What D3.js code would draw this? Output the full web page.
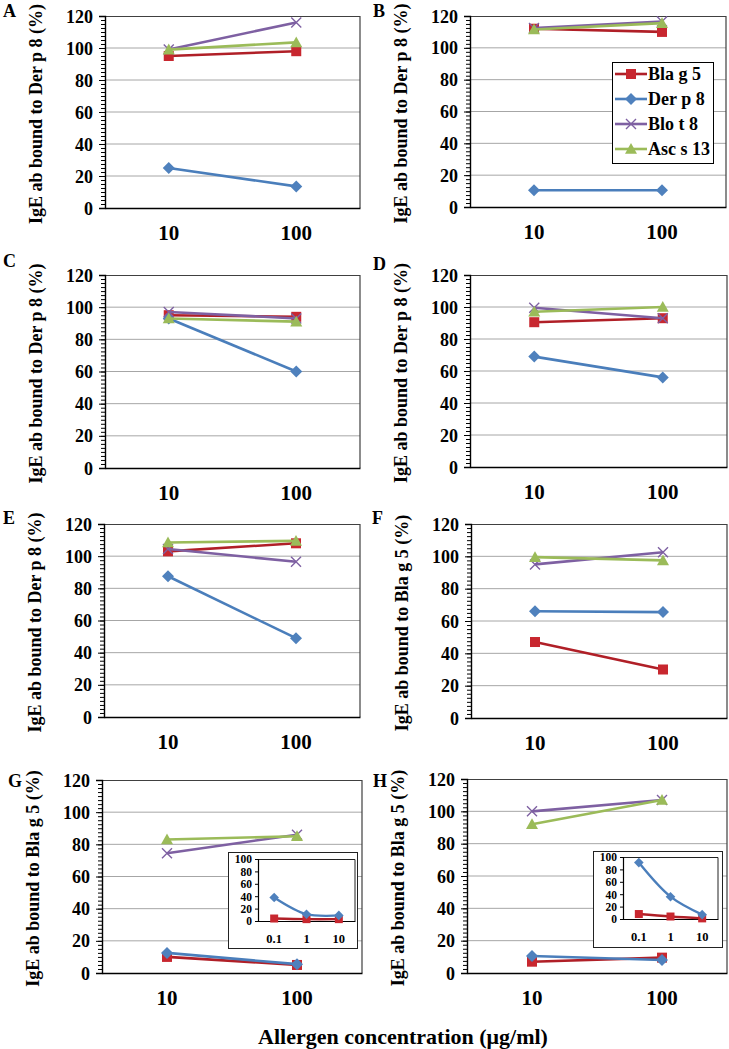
<!DOCTYPE html>
<html><head><meta charset="utf-8">
<script src="https://cdn.jsdelivr.net/npm/d3@7"></script>
<style>
body{margin:0;background:#fff}
svg{display:block}
text{font-family:"Liberation Serif","Times New Roman",serif;font-weight:bold;fill:#000}
</style>
</head><body><svg id="c" width="729" height="1049"></svg>
<script>
// ---------------- data ----------------
const concentrations = ["10", "100"];
const seriesNames = ["Bla g 5", "Der p 8", "Blo t 8", "Asc s 13"];
const panelLetters = ["A", "B", "C", "D", "E", "F", "G", "H"];
const panelTargets = ["Der p 8", "Der p 8", "Der p 8", "Der p 8", "Der p 8", "Bla g 5", "Bla g 5", "Bla g 5"];
// values per panel: [at 10, at 100]
const blag5  = [[95, 98], [112, 110], [95, 94], [90.5, 93], [103, 108], [47, 30], [10, 5], [7, 9.5]];
const derp8  = [[25, 13.5], [10.5, 10.5], [93, 60], [69, 56], [87.5, 49], [66, 65.5], [12.5, 5.5], [10.5, 8]];
const blot8  = [[99, 116], [112.5, 116.5], [97, 93], [99.5, 93], [104.5, 96.5], [95, 102.5], [74.5, 86], [100, 107]];
const ascs13 = [[99, 103.5], [111.5, 115.5], [93, 91], [97, 100], [108.5, 109.5], [99.5, 97.5], [83, 85], [92, 107]];
const yTicks = [0, 20, 40, 60, 80, 100, 120];
const insetPanels = ["G", "H"];
const insetConcentrations = ["0.1", "1", "10"];
const insetBlag5 = [[4, 3, 3], [8, 4, 1]];
const insetDerp8 = [[38, 11, 9], [91, 36, 7]];
const insetTicks = [0, 20, 40, 60, 80, 100];
const xTitle = "Allergen concentration (\u03bcg/ml)";

// ---------------- layout / style ----------------
const svg = d3.select("#c");
const boxes = [
  {x:105, y:16,  w:255, h:192}, {x:470, y:16,  w:256, h:191},
  {x:105, y:275, w:255, h:193}, {x:470, y:275, w:257, h:192},
  {x:104, y:524, w:256, h:193}, {x:471, y:524, w:256, h:194},
  {x:102, y:780, w:260, h:193}, {x:467, y:779, w:260, h:194}
];
const letterPos = [[3,17],[373,17],[3,267],[373,270],[3,524],[372,524],[8,787],[373,787]];
const styles = [
  {line:"#B01F27", fill:"#C8272F", shape:"square"},
  {line:"#4A7EBB", fill:"#4F81BD", shape:"diamond"},
  {line:"#7E60A2", fill:"#7E60A2", shape:"x"},
  {line:"#9BBB59", fill:"#9BBB59", shape:"triangle"}
];
const seriesData = [blag5, derp8, blot8, ascs13];

function marker(sel, shape, st, s) {
  if (shape === "square") {
    sel.append("rect").attr("x", -s/2).attr("y", -s/2).attr("width", s).attr("height", s).attr("fill", st.fill);
  } else if (shape === "diamond") {
    const r = s*0.6;
    sel.append("path").attr("d", `M0,${-r}L${r},0L0,${r}L${-r},0Z`).attr("fill", st.fill);
  } else if (shape === "triangle") {
    const r = s*0.6;
    sel.append("path").attr("d", `M0,${-r}L${r},${r*0.8}L${-r},${r*0.8}Z`).attr("fill", st.fill);
  } else {
    const r = s*0.5;
    sel.append("path").attr("d", `M${-r},${-r}L${r},${r}M${-r},${r}L${r},${-r}`)
      .attr("stroke", st.fill).attr("stroke-width", 1.4).attr("fill", "none");
  }
}

panelLetters.forEach((L, i) => {
  const b = boxes[i];
  const g = svg.append("g").attr("transform", `translate(${b.x},${b.y})`);
  const x = d3.scaleBand().domain(concentrations).range([0, b.w]);
  const y = d3.scaleLinear().domain([0, 120]).range([b.h, 0]);
  g.selectAll(".grid").data(yTicks.filter(t => t > 0 && t < 120)).enter().append("line")
    .attr("x1", 0).attr("x2", b.w).attr("y1", d => y(d)).attr("y2", d => y(d))
    .attr("stroke", "#a6a6a6").attr("stroke-width", 1);
  g.append("path").attr("d", `M0,0.5H${b.w}V${b.h}`).attr("fill", "none")
    .attr("stroke", "#404040").attr("stroke-width", 1.2);
  const minor = d3.axisLeft(y).tickValues(d3.range(0, 120.01, 2.5)).tickSize(4).tickFormat("");
  const gm = g.append("g").call(minor);
  gm.select(".domain").remove();
  gm.selectAll("line").attr("stroke", "#000");
  const ax = g.append("g").call(d3.axisLeft(y).tickValues(yTicks).tickSize(6).tickPadding(6));
  ax.select(".domain").attr("stroke", "#000").attr("stroke-width", 1.4);
  ax.selectAll("line").attr("stroke", "#000");
  ax.selectAll("text").style("font-size", "18px").attr("dy", "0.34em");
  const bx = g.append("g").attr("transform", `translate(0,${b.h})`)
    .call(d3.axisBottom(x).tickSize(0).tickPadding(0));
  bx.select(".domain").attr("stroke", "#000").attr("stroke-width", 1.4);
  bx.selectAll("text").style("font-size", "21px").attr("y", 32).attr("dy", 0);
  g.append("text").attr("transform", `translate(-63,${b.h/2 + 2}) rotate(-90)`)
    .attr("text-anchor", "middle").style("font-size", "18px")
    .text(`IgE ab bound to ${panelTargets[i]} (%)`);
  svg.append("text").attr("x", letterPos[i][0]).attr("y", letterPos[i][1])
    .style("font-size", "18px").text(L);
  const line = d3.line().x(d => x(d.c) + x.bandwidth()/2).y(d => y(d.v));
  seriesData.forEach((arr, s) => {
    const pts = concentrations.map((c, k) => ({c, v: arr[i][k]}));
    g.append("path").attr("d", line(pts)).attr("fill", "none")
      .attr("stroke", styles[s].line).attr("stroke-width", 2.6);
    pts.forEach(p => {
      const m = g.append("g").attr("transform", `translate(${x(p.c) + x.bandwidth()/2},${y(p.v)})`);
      marker(m, styles[s].shape, styles[s], 10);
    });
  });
});

// ---------------- legend in B ----------------
const lg = svg.append("g").attr("transform", "translate(612,62)");
lg.append("rect").attr("x", 0.5).attr("y", 0.5).attr("width", 101).attr("height", 101)
  .attr("fill", "#fff").attr("stroke", "#000").attr("stroke-width", 1);
seriesNames.forEach((n, s) => {
  const yy = 12 + s * 25;
  lg.append("line").attr("x1", 3).attr("x2", 35).attr("y1", yy).attr("y2", yy)
    .attr("stroke", styles[s].line).attr("stroke-width", 2.6);
  marker(lg.append("g").attr("transform", `translate(19,${yy})`), styles[s].shape, styles[s], 10);
  lg.append("text").attr("x", 36).attr("y", yy).attr("dy", "0.34em").style("font-size", "18px").text(n);
});

// ---------------- insets ----------------
const insetBoxes = [
  {ox:228, oy:852, ow:129, oh:96, x:258, y:859, w:97, h:62},
  {ox:593, oy:851, ow:129, oh:96, x:623, y:857, w:95, h:62}
];
insetPanels.forEach((p, j) => {
  const b = insetBoxes[j];
  svg.append("rect").attr("x", b.ox + 0.5).attr("y", b.oy + 0.5).attr("width", b.ow).attr("height", b.oh)
    .attr("fill", "#fff").attr("stroke", "#222").attr("stroke-width", 1);
  const g = svg.append("g").attr("transform", `translate(${b.x},${b.y})`);
  const x = d3.scaleBand().domain(insetConcentrations).range([0, b.w]);
  const y = d3.scaleLinear().domain([0, 100]).range([b.h, 0]);
  g.append("path").attr("d", `M0,0.5H${b.w}V${b.h}`).attr("fill", "none").attr("stroke", "#222").attr("stroke-width", 1);
  const ax = g.append("g").call(d3.axisLeft(y).tickValues(insetTicks).tickSize(3).tickPadding(3));
  ax.select(".domain").attr("stroke", "#000").attr("stroke-width", 1.2);
  ax.selectAll("line").attr("stroke", "#000");
  ax.selectAll("text").style("font-size", "11.5px").attr("dy", "0.34em");
  const bx = g.append("g").attr("transform", `translate(0,${b.h})`).call(d3.axisBottom(x).tickSize(0).tickPadding(0));
  bx.select(".domain").attr("stroke", "#000").attr("stroke-width", 1.2);
  bx.selectAll("text").style("font-size", "12.5px").attr("y", 22).attr("dy", 0);
  const line = d3.line().x(d => x(d.c) + x.bandwidth()/2).y(d => y(d.v)).curve(d3.curveCatmullRom.alpha(0.5));
  [[insetBlag5, 0], [insetDerp8, 1]].forEach(([arr, s]) => {
    const pts = insetConcentrations.map((c, k) => ({c, v: arr[j][k]}));
    g.append("path").attr("d", line(pts)).attr("fill", "none")
      .attr("stroke", styles[s].line).attr("stroke-width", 2.4);
    pts.forEach(pt => {
      const m = g.append("g").attr("transform", `translate(${x(pt.c) + x.bandwidth()/2},${y(pt.v)})`);
      marker(m, styles[s].shape, styles[s], 8);
    });
  });
});

// ---------------- x title ----------------
svg.append("text").attr("x", 403).attr("y", 1044).attr("text-anchor", "middle")
  .style("font-size", "22px").text(xTitle);
</script>
</body></html>
